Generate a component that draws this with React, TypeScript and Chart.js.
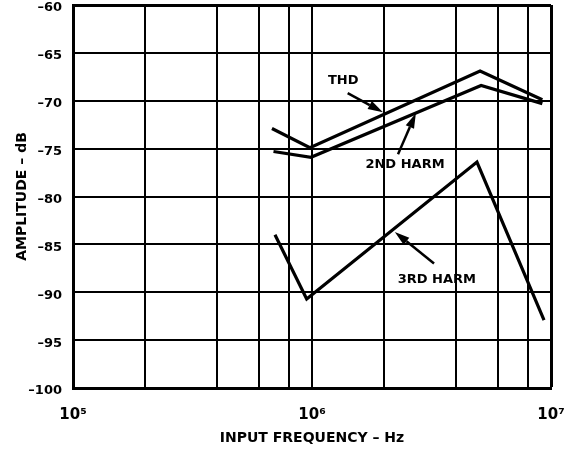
import React, { useEffect, useRef } from 'react';
import { Chart, registerables } from 'chart.js';

Chart.register(...registerables);

// Data (x in Hz, y in dB)
const thdFreq = [680000, 980000, 5050000, 9200000];
const thdAmp = [-72.9, -74.9, -66.9, -69.9];
const harm2Freq = [690000, 990000, 5100000, 9200000];
const harm2Amp = [-75.3, -75.9, -68.4, -70.3];
const harm3Freq = [700000, 950000, 4900000, 9350000];
const harm3Amp = [-84.0, -90.7, -76.4, -92.9];

const xGridValues = [1e5, 2e5, 4e5, 6e5, 8e5, 1e6, 2e6, 4e6, 6e6, 8e6, 1e7];
const xTickLabels: Record<number, string> = { 100000: '10\u2075', 1000000: '10\u2076', 10000000: '10\u2077' };
const yMin = -100;
const yMax = -60;
const yStep = 5;

// Callout labels (data coordinates): text position, arrow tail, arrow head
const calloutText = ['THD', '2ND HARM', '3RD HARM'];
const calloutTextX = [1.35e6, 2.45e6, 3.33e6];
const calloutTextY = [-67.9, -76.7, -88.7];
const calloutTailX = [1.41e6, 2.29e6, 3.24e6];
const calloutTailY = [-69.2, -75.6, -87.0];
const calloutHeadX = [1.98e6, 2.72e6, 2.22e6];
const calloutHeadY = [-71.2, -71.3, -83.7];

const FONT = '"DejaVu Sans", "Liberation Sans", Arial, sans-serif';

const toPoints = (xs: number[], ys: number[]) => xs.map((x, i) => ({ x, y: ys[i] }));

const calloutPlugin = {
  id: 'callouts',
  afterDatasetsDraw(chart: any) {
    const { ctx, scales } = chart;
    const xs = scales.x;
    const ys = scales.y;
    ctx.save();
    ctx.fillStyle = '#000';
    ctx.strokeStyle = '#000';
    ctx.font = `bold 13px ${FONT}`;
    ctx.textAlign = 'center';
    ctx.textBaseline = 'middle';
    for (let i = 0; i < calloutText.length; i++) {
      const tx = xs.getPixelForValue(calloutTextX[i]);
      const ty = ys.getPixelForValue(calloutTextY[i]);
      ctx.fillText(calloutText[i], tx, ty);
      const x0 = xs.getPixelForValue(calloutTailX[i]);
      const y0 = ys.getPixelForValue(calloutTailY[i]);
      const x1 = xs.getPixelForValue(calloutHeadX[i]);
      const y1 = ys.getPixelForValue(calloutHeadY[i]);
      const ang = Math.atan2(y1 - y0, x1 - x0);
      const headLen = 15;
      const headW = 4.5;
      const bx = x1 - headLen * Math.cos(ang);
      const by = y1 - headLen * Math.sin(ang);
      ctx.lineWidth = 2.5;
      ctx.beginPath();
      ctx.moveTo(x0, y0);
      ctx.lineTo(bx, by);
      ctx.stroke();
      ctx.beginPath();
      ctx.moveTo(x1, y1);
      ctx.lineTo(bx + headW * Math.sin(ang), by - headW * Math.cos(ang));
      ctx.lineTo(bx - headW * Math.sin(ang), by + headW * Math.cos(ang));
      ctx.closePath();
      ctx.fill();
    }
    ctx.restore();
  },
};

export default function App() {
  const canvasRef = useRef<HTMLCanvasElement | null>(null);

  useEffect(() => {
    document.body.style.margin = '0';
    const canvas = canvasRef.current;
    if (!canvas) return;
    const lineStyle = {
      showLine: true,
      borderColor: '#000',
      backgroundColor: '#000',
      borderWidth: 3.2,
      pointRadius: 0,
      borderJoinStyle: 'miter' as const,
      tension: 0,
    };
    const chart = new Chart(canvas, {
      type: 'scatter',
      data: {
        datasets: [
          { label: 'THD', data: toPoints(thdFreq, thdAmp), ...lineStyle },
          { label: '2ND HARM', data: toPoints(harm2Freq, harm2Amp), ...lineStyle },
          { label: '3RD HARM', data: toPoints(harm3Freq, harm3Amp), ...lineStyle },
        ],
      },
      options: {
        animation: false,
        responsive: false,
        devicePixelRatio: 1,
        layout: { padding: { top: 5, right: 20, left: 0, bottom: 0 } },
        plugins: { legend: { display: false }, tooltip: { enabled: false } },
        scales: {
          x: {
            type: 'logarithmic',
            min: 1e5,
            max: 1e7,
            afterBuildTicks: (scale: any) => {
              scale.ticks = xGridValues.map((v) => ({ value: v }));
            },
            afterFit: (scale: any) => {
              scale.height = 65;
              scale.paddingLeft = 0;
              scale.paddingRight = 0;
            },
            grid: {
              color: '#000',
              lineWidth: (c: any) => (c.tick && c.tick.value === 1e7 ? 3 : 2),
              drawTicks: false,
            },
            border: { display: true, color: '#000', width: 3 },
            ticks: {
              autoSkip: false,
              maxRotation: 0,
              padding: 18,
              color: '#000',
              font: { family: FONT, weight: 'bold', size: 15 },
              callback: (v: any) => xTickLabels[Number(v)] ?? '',
            },
            title: {
              display: true,
              text: 'INPUT FREQUENCY \u2013 Hz',
              color: '#000',
              font: { family: FONT, weight: 'bold', size: 14 },
              padding: { top: 0, bottom: 6 },
            },
          },
          y: {
            type: 'linear',
            min: yMin,
            max: yMax,
            afterFit: (scale: any) => {
              scale.width = 73;
              scale.paddingTop = 0;
              scale.paddingBottom = 0;
            },
            grid: {
              color: '#000',
              lineWidth: (c: any) => (c.tick && c.tick.value === yMax ? 3 : 2),
              drawTicks: false,
            },
            border: { display: true, color: '#000', width: 3 },
            ticks: {
              stepSize: yStep,
              padding: 11,
              labelOffset: 3,
              color: '#000',
              font: { family: FONT, weight: 'bold', size: 13 },
              callback: (v: any) => '\u2013' + Math.abs(Number(v)),
            },
            title: {
              display: true,
              text: 'AMPLITUDE \u2013 dB',
              color: '#000',
              font: { family: FONT, weight: 'bold', size: 14 },
              padding: { top: 14, bottom: 0 },
            },
          },
        },
      },
      plugins: [calloutPlugin],
    });
    return () => chart.destroy();
  }, []);

  return (
    <div style={{ position: 'absolute', left: 0, top: 0, width: 571, height: 453, background: '#fff' }}>
      <canvas ref={canvasRef} width={571} height={453} />
    </div>
  );
}
